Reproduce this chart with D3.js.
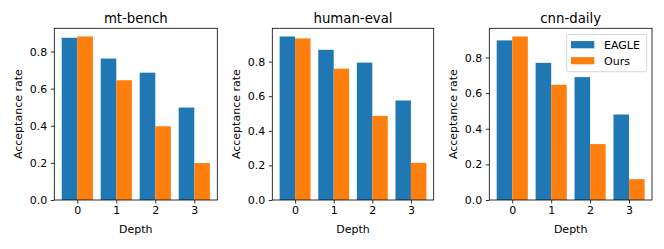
<!DOCTYPE html>
<html><head><meta charset="utf-8">
<script src="https://cdn.jsdelivr.net/npm/d3@7"></script>
<style>body{margin:0;background:#fff}svg{display:block}text{font-family:"DejaVu Sans",sans-serif}</style>
</head><body>
<script>
const depths = [0, 1, 2, 3];
const titles = ["mt-bench", "human-eval", "cnn-daily"];
const seriesNames = ["EAGLE", "Ours"];
const eagleMt = [0.874, 0.762, 0.686, 0.498];
const oursMt = [0.881, 0.645, 0.397, 0.199];
const eagleHe = [0.945, 0.868, 0.794, 0.575];
const oursHe = [0.934, 0.759, 0.486, 0.215];
const eagleCnn = [0.896, 0.770, 0.690, 0.480];
const oursCnn = [0.918, 0.647, 0.314, 0.117];
const yTicks = [0, 0.2, 0.4, 0.6, 0.8];
const colors = ["#1f77b4", "#ff7f0e"];

(function () {
const panels = [
  {title: titles[0], data: [eagleMt, oursMt], left: 54.3, right: 217.3, ylab: 18.3},
  {title: titles[1], data: [eagleHe, oursHe], left: 272.3, right: 433.7, ylab: 235.7},
  {title: titles[2], data: [eagleCnn, oursCnn], left: 489.3, right: 652, ylab: 452.7, legend: true}
];
const plotTop = 28.3, plotBottom = 200;
const fs = "11px", tfs = "13.3px";

const svg = d3.select("body").append("svg").attr("width", 664).attr("height", 249);

panels.forEach(p => {
  const maxV = d3.max(p.data.flat());
  const x = d3.scaleLinear().domain([-0.59, 3.59]).range([p.left, p.right]);
  const y = d3.scaleLinear().domain([0, maxV * 1.05]).range([plotBottom, plotTop]);
  const g = svg.append("g");
  const bw = x(0.4) - x(0);
  p.data.forEach((vals, si) => {
    g.selectAll(null).data(vals).enter().append("rect")
      .attr("x", (d, i) => x(depths[i] + (si === 0 ? -0.4 : 0)))
      .attr("y", d => y(d))
      .attr("width", bw)
      .attr("height", d => y(0) - y(d))
      .attr("fill", colors[si]);
  });
  g.append("rect").attr("x", p.left).attr("y", plotTop).attr("width", p.right - p.left).attr("height", plotBottom - plotTop)
    .attr("fill", "none").attr("stroke", "#000").attr("stroke-width", 0.8);
  const xa = g.append("g").attr("transform", `translate(0,${plotBottom})`)
    .call(d3.axisBottom(x).tickValues(depths).tickFormat(d3.format("d")).tickSize(3.5).tickPadding(3));
  const ya = g.append("g").attr("transform", `translate(${p.left},0)`)
    .call(d3.axisLeft(y).tickValues(yTicks).tickFormat(d3.format(".1f")).tickSize(3.5).tickPadding(3.5));
  [xa, ya].forEach(a => {
    a.select(".domain").remove();
    a.selectAll("line").attr("stroke", "#000").attr("stroke-width", 0.8);
    a.selectAll("text").attr("fill", "#000").style("font-size", fs).style("font-family", "DejaVu Sans");
  });
  g.append("text").attr("x", (p.left + p.right) / 2).attr("y", 22.7).attr("text-anchor", "middle")
    .style("font-size", tfs).text(p.title);
  g.append("text").attr("x", (p.left + p.right) / 2).attr("y", 232.7).attr("text-anchor", "middle")
    .style("font-size", fs).text("Depth");
  g.append("text").attr("transform", `translate(${p.ylab},${(plotTop + plotBottom) / 2}) rotate(-90)`)
    .attr("dy", "0.35em").attr("text-anchor", "middle").style("font-size", fs).text("Acceptance rate");
  if (p.legend) {
    const lg = g.append("g");
    lg.append("rect").attr("x", 566.7).attr("y", 34.5).attr("width", 80).attr("height", 37.2)
      .attr("rx", 2).attr("fill", "#fff").attr("fill-opacity", 0.8).attr("stroke", "#ccc").attr("stroke-width", 0.8);
    seriesNames.forEach((n, i) => {
      const cy = 44.7 + i * 16;
      lg.append("rect").attr("x", 571).attr("y", cy - 3.6).attr("width", 23.3).attr("height", 7.2).attr("fill", colors[i]);
      lg.append("text").attr("x", 604).attr("y", cy).attr("dy", "0.35em").style("font-size", fs).text(n);
    });
  }
});
})();
</script>
</body></html>
